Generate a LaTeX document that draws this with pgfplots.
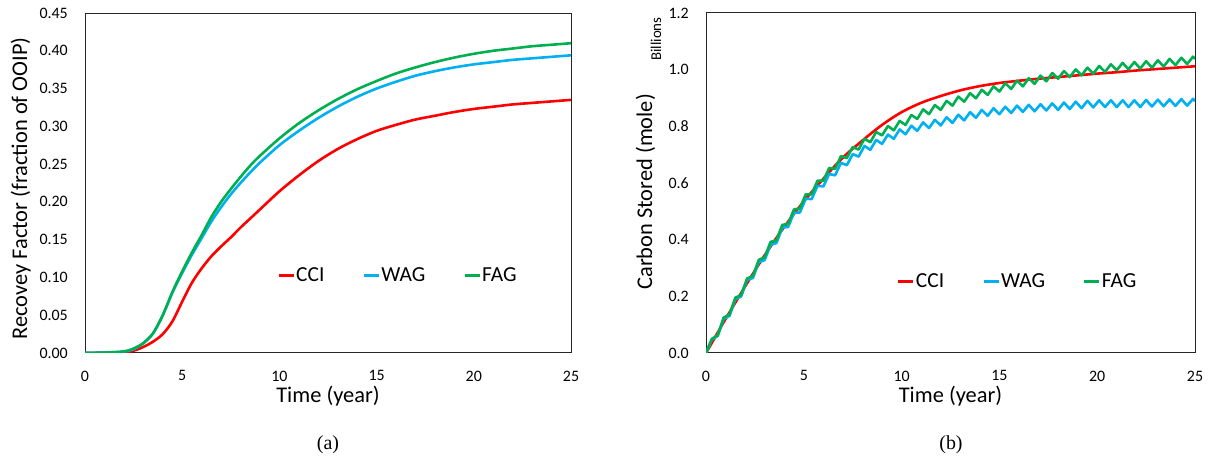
\documentclass[border=0pt]{standalone}
\usepackage{fontspec}
\setmainfont{Carlito}
\newfontfamily\capfont{Liberation Serif}
\usepackage{pgfplots}
\pgfplotsset{compat=1.18}
\definecolor{cci}{RGB}{255,0,0}
\definecolor{wag}{RGB}{0,176,240}
\definecolor{fag}{RGB}{0,176,80}

\pgfplotsset{
  excelfig/.style={
    scale only axis,
    anchor=south west,
    xmin=0, xmax=25, xtick={0,5,...,25},
    major tick length=0pt,
    axis line style={black!85, line width=1bp},
    ticklabel style={font=\fontsize{16}{19}\selectfont, inner sep=0pt},
    /pgf/number format/assume math mode=true,
    xticklabel style={yshift=-17.5bp},
    yticklabel style={xshift=-17bp},
    label style={font=\fontsize{22.5}{27}\selectfont, inner sep=0pt},
    x label style={at={(axis description cs:0.5,-0.147)}, anchor=base},
    legend columns=3,
    legend style={draw=none, fill=none, inner sep=0pt,
      font=\fontsize{21.5}{26}\selectfont,
      nodes={inner sep=1bp},
      /tikz/every even column/.append style={column sep=37bp}},
    legend image code/.code={\draw[#1, line width=3bp] (0bp,0bp) -- (15bp,0bp);},
    every axis plot/.append style={line width=2.6bp, line join=round},
  }
}

\begin{document}
\begin{tikzpicture}
\path[use as bounding box] (0,0) rectangle (1211bp,456bp);

% (a) recovery factor
\begin{axis}[excelfig,
  at={(85bp,103bp)}, width=486bp, height=340bp,
  ymin=0, ymax=0.45, ytick={0,0.05,...,0.451},
  yticklabel style={/pgf/number format/.cd, fixed, fixed zerofill, precision=2},
  xlabel={Time (year)},
  ylabel={Recovey Factor (fraction of OOIP)},
  y label style={at={(axis description cs:-0.119,0.484)}, anchor=base},
  legend style={at={(axis description cs:0.395,0.228)}, anchor=west},
]
\addplot[cci, smooth] coordinates {
 (0,0)(1,0.0005)(2,0.001)(2.5,0.003)(3,0.008)(3.5,0.015)(4,0.025)(4.5,0.042)
 (5,0.068)(5.5,0.093)(6,0.112)(6.5,0.128)(7,0.141)(7.5,0.153)(8,0.166)(8.5,0.178)
 (9,0.190)(10,0.214)(11,0.235)(12,0.254)(13,0.270)(14,0.283)(15,0.294)(16,0.302)
 (17,0.309)(18,0.314)(19,0.319)(20,0.323)(21,0.326)(22,0.329)(23,0.331)(24,0.333)(25,0.335)
};
\addlegendentry{CCI}
\addplot[wag, smooth] coordinates {
 (0,0)(1,0.0005)(2,0.002)(2.5,0.005)(3,0.013)(3.5,0.026)(4,0.050)(4.5,0.080)
 (5,0.106)(5.5,0.130)(6,0.152)(6.5,0.174)(7,0.193)(7.5,0.210)(8,0.225)(8.5,0.239)
 (9,0.252)(10,0.275)(11,0.294)(12,0.311)(13,0.326)(14,0.339)(15,0.350)(16,0.359)
 (17,0.367)(18,0.373)(19,0.378)(20,0.382)(21,0.385)(22,0.388)(23,0.390)(24,0.392)(25,0.394)
};
\addlegendentry{WAG}
\addplot[fag, smooth] coordinates {
 (0,0)(1,0.0005)(2,0.002)(2.5,0.006)(3,0.013)(3.5,0.026)(4,0.050)(4.5,0.081)
 (5,0.108)(5.5,0.133)(6,0.156)(6.5,0.180)(7,0.200)(7.5,0.217)(8,0.233)(8.5,0.248)
 (9,0.261)(10,0.284)(11,0.304)(12,0.321)(13,0.336)(14,0.349)(15,0.360)(16,0.370)
 (17,0.378)(18,0.385)(19,0.391)(20,0.396)(21,0.400)(22,0.403)(23,0.406)(24,0.408)(25,0.410)
};
\addlegendentry{FAG}
\end{axis}

% (b) carbon stored
\begin{axis}[excelfig,
  at={(706bp,103bp)}, width=489bp, height=340bp,
  ymin=0, ymax=1.2, ytick={0,0.2,...,1.21},
  yticklabel style={/pgf/number format/.cd, fixed, fixed zerofill, precision=1},
  xlabel={Time (year)},
  ylabel={Carbon Stored (mole)},
  y label style={at={(axis description cs:-0.11,0.474)}, anchor=base},
  legend style={at={(axis description cs:0.39,0.21)}, anchor=west},
]
\addplot[cci, smooth] coordinates {
 (0,0)(0.5,0.06)(1,0.12)(2,0.235)(3,0.345)(4,0.445)(5,0.535)(6,0.615)(7,0.69)
 (8,0.75)(9,0.805)(10,0.85)(11,0.883)(12,0.907)(13,0.927)(14,0.942)(15,0.953)
 (16,0.961)(17,0.968)(18,0.974)(19,0.98)(20,0.986)(21,0.991)(22,0.997)(23,1.002)
 (24,1.007)(25,1.012)
};
\addlegendentry{CCI}
\addplot[wag] coordinates {
 (0,0)(0.3,0.048)(0.6,0.060)(0.9,0.120)(1.2,0.131)(1.5,0.190)(1.8,0.200)(2.1,0.258)
 (2.4,0.265)(2.7,0.321)(3.0,0.328)(3.3,0.382)(3.6,0.388)(3.9,0.442)(4.2,0.445)(4.5,0.495)
 (4.8,0.496)(5.1,0.545)(5.4,0.543)(5.7,0.590)(6.0,0.588)(6.3,0.632)(6.6,0.627)(6.9,0.671)
 (7.2,0.663)(7.5,0.702)(7.8,0.693)(8.1,0.731)(8.4,0.717)(8.7,0.752)(9.0,0.738)(9.3,0.771)
 (9.6,0.756)(9.9,0.789)(10.2,0.772)(10.5,0.802)(10.8,0.784)(11.1,0.814)(11.4,0.794)(11.7,0.823)
 (12.0,0.803)(12.3,0.832)(12.6,0.812)(12.9,0.841)(13.2,0.821)(13.5,0.850)(13.8,0.830)(14.1,0.858)
 (14.4,0.837)(14.7,0.864)(15.0,0.843)(15.3,0.869)(15.6,0.847)(15.9,0.873)(16.2,0.851)(16.5,0.876)
 (16.8,0.853)(17.1,0.878)(17.4,0.856)(17.7,0.881)(18.0,0.858)(18.3,0.884)(18.6,0.861)(18.9,0.887)
 (19.2,0.864)(19.5,0.890)(19.8,0.867)(20.1,0.892)(20.4,0.868)(20.7,0.892)(21.0,0.868)(21.3,0.892)
 (21.6,0.868)(21.9,0.892)(22.2,0.868)(22.5,0.893)(22.8,0.870)(23.1,0.894)(23.4,0.871)(23.7,0.895)
 (24.0,0.872)(24.3,0.896)(24.6,0.873)(24.9,0.897)(25.0,0.889)
};
\addlegendentry{WAG}
\addplot[fag] coordinates {
 (0,0)(0.3,0.050)(0.6,0.063)(0.9,0.125)(1.2,0.136)(1.5,0.195)(1.8,0.205)(2.1,0.263)
 (2.4,0.272)(2.7,0.329)(3.0,0.338)(3.3,0.392)(3.6,0.398)(3.9,0.452)(4.2,0.456)(4.5,0.507)
 (4.8,0.510)(5.1,0.560)(5.4,0.560)(5.7,0.608)(6.0,0.608)(6.3,0.653)(6.6,0.650)(6.9,0.695)
 (7.2,0.688)(7.5,0.727)(7.8,0.718)(8.1,0.756)(8.4,0.744)(8.7,0.780)(9.0,0.768)(9.3,0.801)
 (9.6,0.786)(9.9,0.819)(10.2,0.805)(10.5,0.840)(10.8,0.826)(11.1,0.860)(11.4,0.843)(11.7,0.875)
 (12.0,0.858)(12.3,0.890)(12.6,0.873)(12.9,0.905)(13.2,0.887)(13.5,0.917)(13.8,0.899)(14.1,0.929)
 (14.4,0.911)(14.7,0.941)(15.0,0.923)(15.3,0.952)(15.6,0.932)(15.9,0.961)(16.2,0.941)(16.5,0.970)
 (16.8,0.950)(17.1,0.979)(17.4,0.959)(17.7,0.988)(18.0,0.968)(18.3,0.995)(18.6,0.974)(18.9,1.001)
 (19.2,0.980)(19.5,1.007)(19.8,0.986)(20.1,1.013)(20.4,0.992)(20.7,1.019)(21.0,0.998)(21.3,1.024)
 (21.6,1.001)(21.9,1.027)(22.2,1.004)(22.5,1.030)(22.8,1.007)(23.1,1.033)(23.4,1.011)(23.7,1.038)
 (24.0,1.016)(24.3,1.042)(24.6,1.020)(24.9,1.046)(25.0,1.038)
};
\addlegendentry{FAG}
\end{axis}

\node[rotate=90, anchor=base, font=\fontsize{15}{18}\selectfont] at (661bp,417bp) {Billions};
\node[anchor=base, font=\capfont\fontsize{20}{24}\selectfont] at (328bp,7bp) {(a)};
\node[anchor=base, font=\capfont\fontsize{20}{24}\selectfont] at (951bp,7bp) {(b)};
\end{tikzpicture}
\end{document}
